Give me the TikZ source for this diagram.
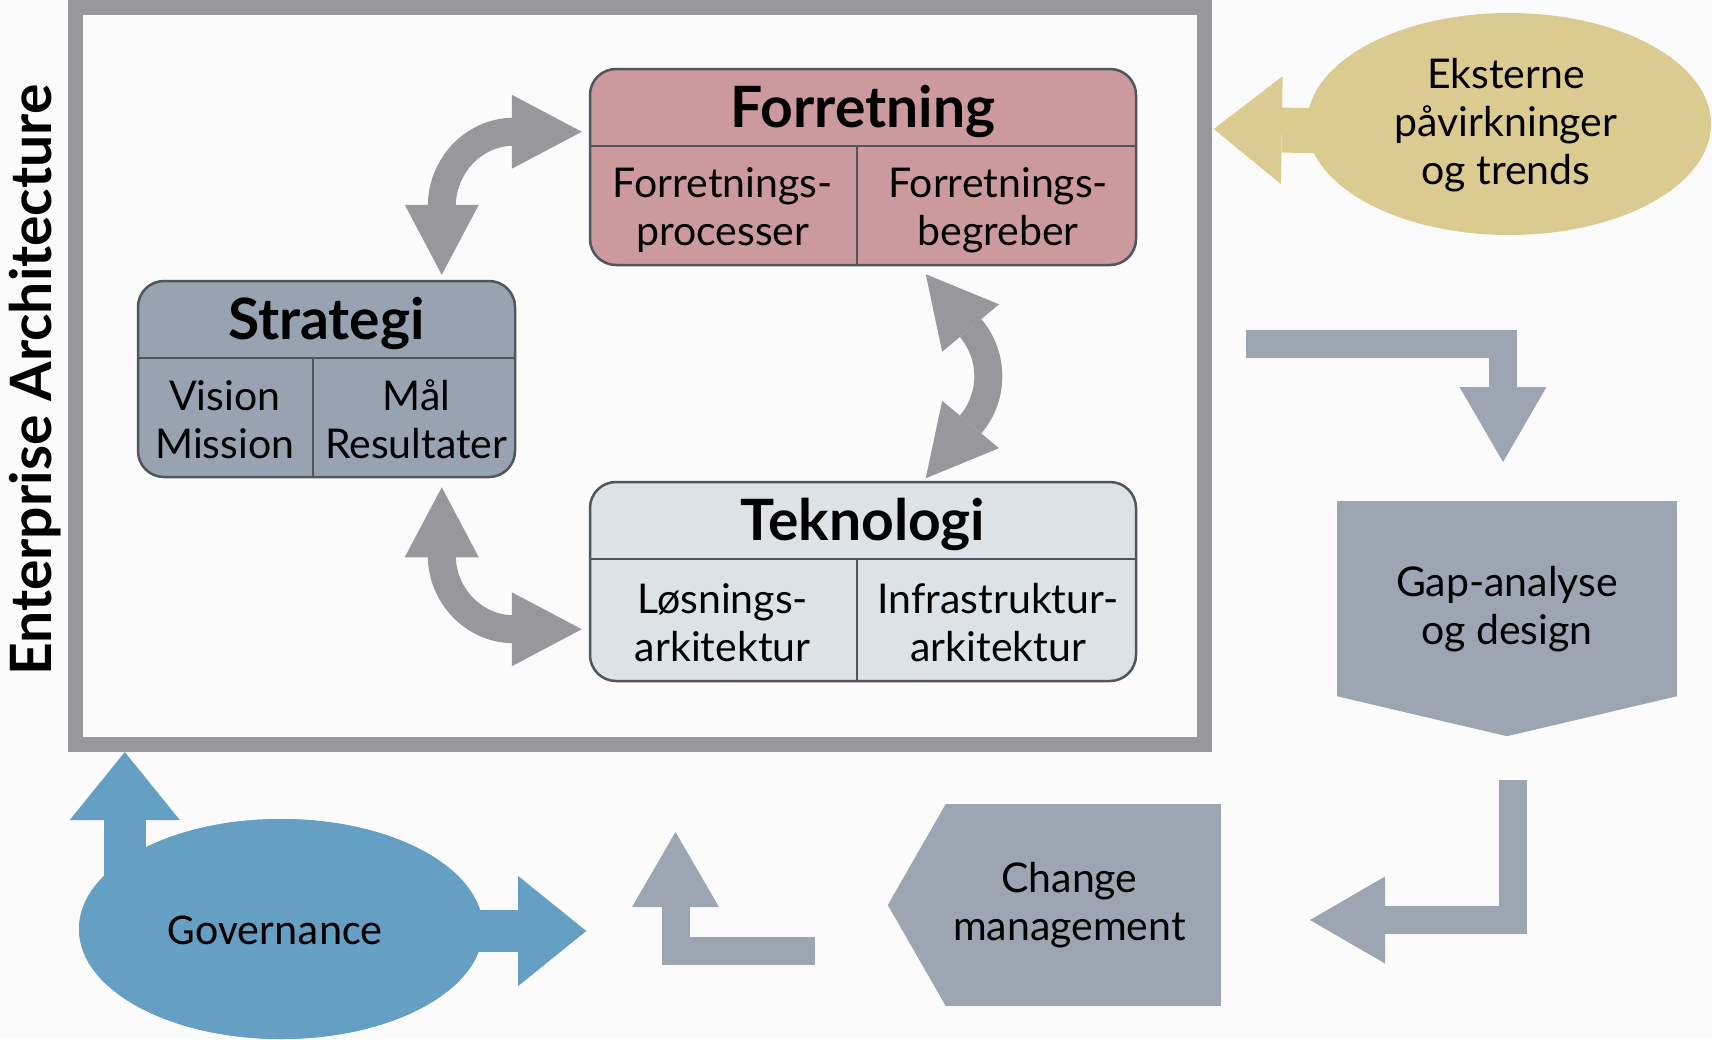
\documentclass[tikz,border=0pt]{standalone}
\usepackage{fontspec}
\setmainfont{Lato}
\newfontfamily\govfont{Carlito}
\usetikzlibrary{arrows.meta,positioning,calc,shapes.geometric}
\definecolor{rammegraa}{HTML}{97979C}
\definecolor{skifer}{HTML}{9BA6B2}
\definecolor{rosa}{HTML}{CC999C}
\definecolor{blaagraa}{HTML}{98A3B1}
\definecolor{lysgraa}{HTML}{DDE2E7}
\definecolor{sand}{HTML}{DCCB90}
\definecolor{himmel}{HTML}{659FC4}
\definecolor{kant}{HTML}{4F565E}
\definecolor{bund}{HTML}{FBFBFB}

\begin{document}
\begin{tikzpicture}[x=1pt, y=-1pt,
  ramme/.style={draw=rammegraa, line width=15pt, minimum width=1129pt, minimum height=737pt, inner sep=0pt},
  lag/.style={draw=kant, line width=2.5pt, rounded corners=26pt, inner sep=0pt},
  skille/.style={draw=kant, line width=2.5pt},
  hdr/.style={font=\fontsize{57}{60}\selectfont\bfseries, inner sep=0pt},
  sub/.style={font=\fontsize{41}{48}\selectfont, align=center, inner sep=0pt},
  flade/.style={fill=skifer, inner sep=0pt},
  bue/.style={draw=rammegraa, line width=28pt, >={Triangle[width=74pt,length=70pt,line width=0pt]}, <->},
  knaek/.style={draw=skifer, line width=28pt, line join=miter, >={Triangle[width=87pt,length=75pt,line width=0pt]}, ->},
  blaapil/.style={draw=himmel, line width=42pt, >={Triangle[width=110pt,length=68pt,line width=0pt]}, ->},
  sandpil/.style={draw=sand, line width=45pt, >={Triangle[width=108pt,length=68pt,line width=0pt]}, ->}
]
  \fill[bund] (0,0) rectangle (1712,1039);
  \useasboundingbox (0,0) rectangle (1712,1039);

  \node[ramme] (ea) at (640,376) {};
  \node[hdr, rotate=90] (eatitel) at (35,380) {Enterprise Architecture};

  \node[lag, fill=rosa, minimum width=546pt, minimum height=196pt] (forr) at (863,167) {};
  \node[lag, fill=blaagraa, minimum width=377pt, minimum height=196pt] (strat) at (326.5,379) {};
  \node[lag, fill=lysgraa, minimum width=546pt, minimum height=199pt] (tekn) at (863,581.5) {};

  \draw[skille] ($(forr.north west)+(0,78)$) -- ($(forr.north east)+(0,78)$);
  \draw[skille] ($(forr.north west)+(268,78)$) -- ($(forr.south west)+(268,0)$);
  \draw[skille] ($(strat.north west)+(0,78)$) -- ($(strat.north east)+(0,78)$);
  \draw[skille] ($(strat.north west)+(176,78)$) -- ($(strat.south west)+(176,0)$);
  \draw[skille] ($(tekn.north west)+(0,78)$) -- ($(tekn.north east)+(0,78)$);
  \draw[skille] ($(tekn.north west)+(268,78)$) -- ($(tekn.south west)+(268,0)$);

  \node[hdr] (forrhdr) at ($(forr.north)+(0,44)$) {Forretning};
  \node[sub] (forrproc) at ($(forr.south west)+(134,-56)$) {Forretnings-\\processer};
  \node[sub] (forrbegr) at ($(forr.south east)+(-139,-56)$) {Forretnings-\\begreber};
  \node[hdr] (strathdr) at ($(strat.north)+(0,44)$) {Strategi};
  \node[sub] (stratvis) at ($(strat.south west)+(88,-59)$) {Vision\\Mission};
  \node[sub] (stratmaal) at ($(strat.south east)+(-100,-59)$) {Mål\\Resultater};
  \node[hdr] (teknhdr) at ($(tekn.north)+(0,44)$) {Teknologi};
  \node[sub] (teknloes) at ($(tekn.south west)+(134,-60)$) {Løsnings-\\arkitektur};
  \node[sub] (tekninfra) at ($(tekn.south east)+(-139,-60)$) {Infrastruktur-\\arkitektur};

  \draw[bue] ($(strat.north west)+(305,-5)$) -- ++(0,-68)
    .. controls +(0,-41) and +(-40,0) .. ($(forr.north west)+(-75,64)$) -- ++(68,0);
  \draw[bue] ($(strat.south west)+(305,9)$) -- ++(0,68)
    .. controls +(0,40) and +(-40,0) .. ($(tekn.south west)+(-75,-53)$) -- ++(68,0);
  \draw[bue] ($(forr.south west)+(337,8)$) -- ++(45,54)
    .. controls +(23.4,27.9) and +(23.4,-27.9) .. ++(0,96) -- ++(-45,54);

  \node[ellipse, fill=sand, minimum width=404pt, minimum height=222pt, inner sep=0pt] (ekst) at (1509,124) {};
  \draw[sandpil] ($(ekst.west)+(30,7)$) -- ($(ekst.west)+(-93,5)$);
  \node[sub] (eksttxt) at ($(ekst.center)+(-3,1)$) {Eksterne\\påvirkninger\\og trends};

  \node[flade, minimum width=340pt, minimum height=195pt] (gap) at (1507,598.5) {};
  \fill[skifer] (gap.south west) -- (gap.south east) -- ($(gap.south)+(0,40)$) -- cycle;
  \node[sub] (gaptxt) at ($(gap.center)+(0,11)$) {Gap-analyse\\og design};

  \node[flade, minimum width=275pt, minimum height=202pt] (chg) at (1083.5,905) {};
  \fill[skifer] (chg.north west) -- (chg.south west) -- ($(chg.west)+(-58,0)$) -- cycle;
  \node[sub] (chgtxt) at ($(chg.center)+(-14,0)$) {Change\\management};

  \coordinate (kA) at (1246,344);
  \coordinate (kB) at (1503,462);
  \coordinate (kC) at (1513,780);
  \coordinate (kD) at (1310,920);
  \coordinate (kE) at (815,951);
  \coordinate (kF) at (675.5,832);
  \draw[knaek] (kA) -| (kB);
  \draw[knaek] (kC) |- (kD);
  \draw[knaek] (kE) -| (kF);

  \node[ellipse, fill=himmel, minimum width=404pt, minimum height=220pt, inner sep=0pt] (gov) at (281,929) {};
  \coordinate (govop) at ($(gov.west)+(46,-20)$);
  \draw[blaapil] (govop) -- (govop |- ea.south);
  \draw[blaapil] ($(gov.east)+(-20,2)$) -- ($(gov.east)+(103,2)$);
  \fill[himmel] (gov.center) ellipse (202 and 110);
  \node[font=\govfont\fontsize{44}{50}\selectfont, inner sep=0pt] (govtxt) at ($(gov.center)+(-6,1)$) {Governance};
\end{tikzpicture}
\end{document}
